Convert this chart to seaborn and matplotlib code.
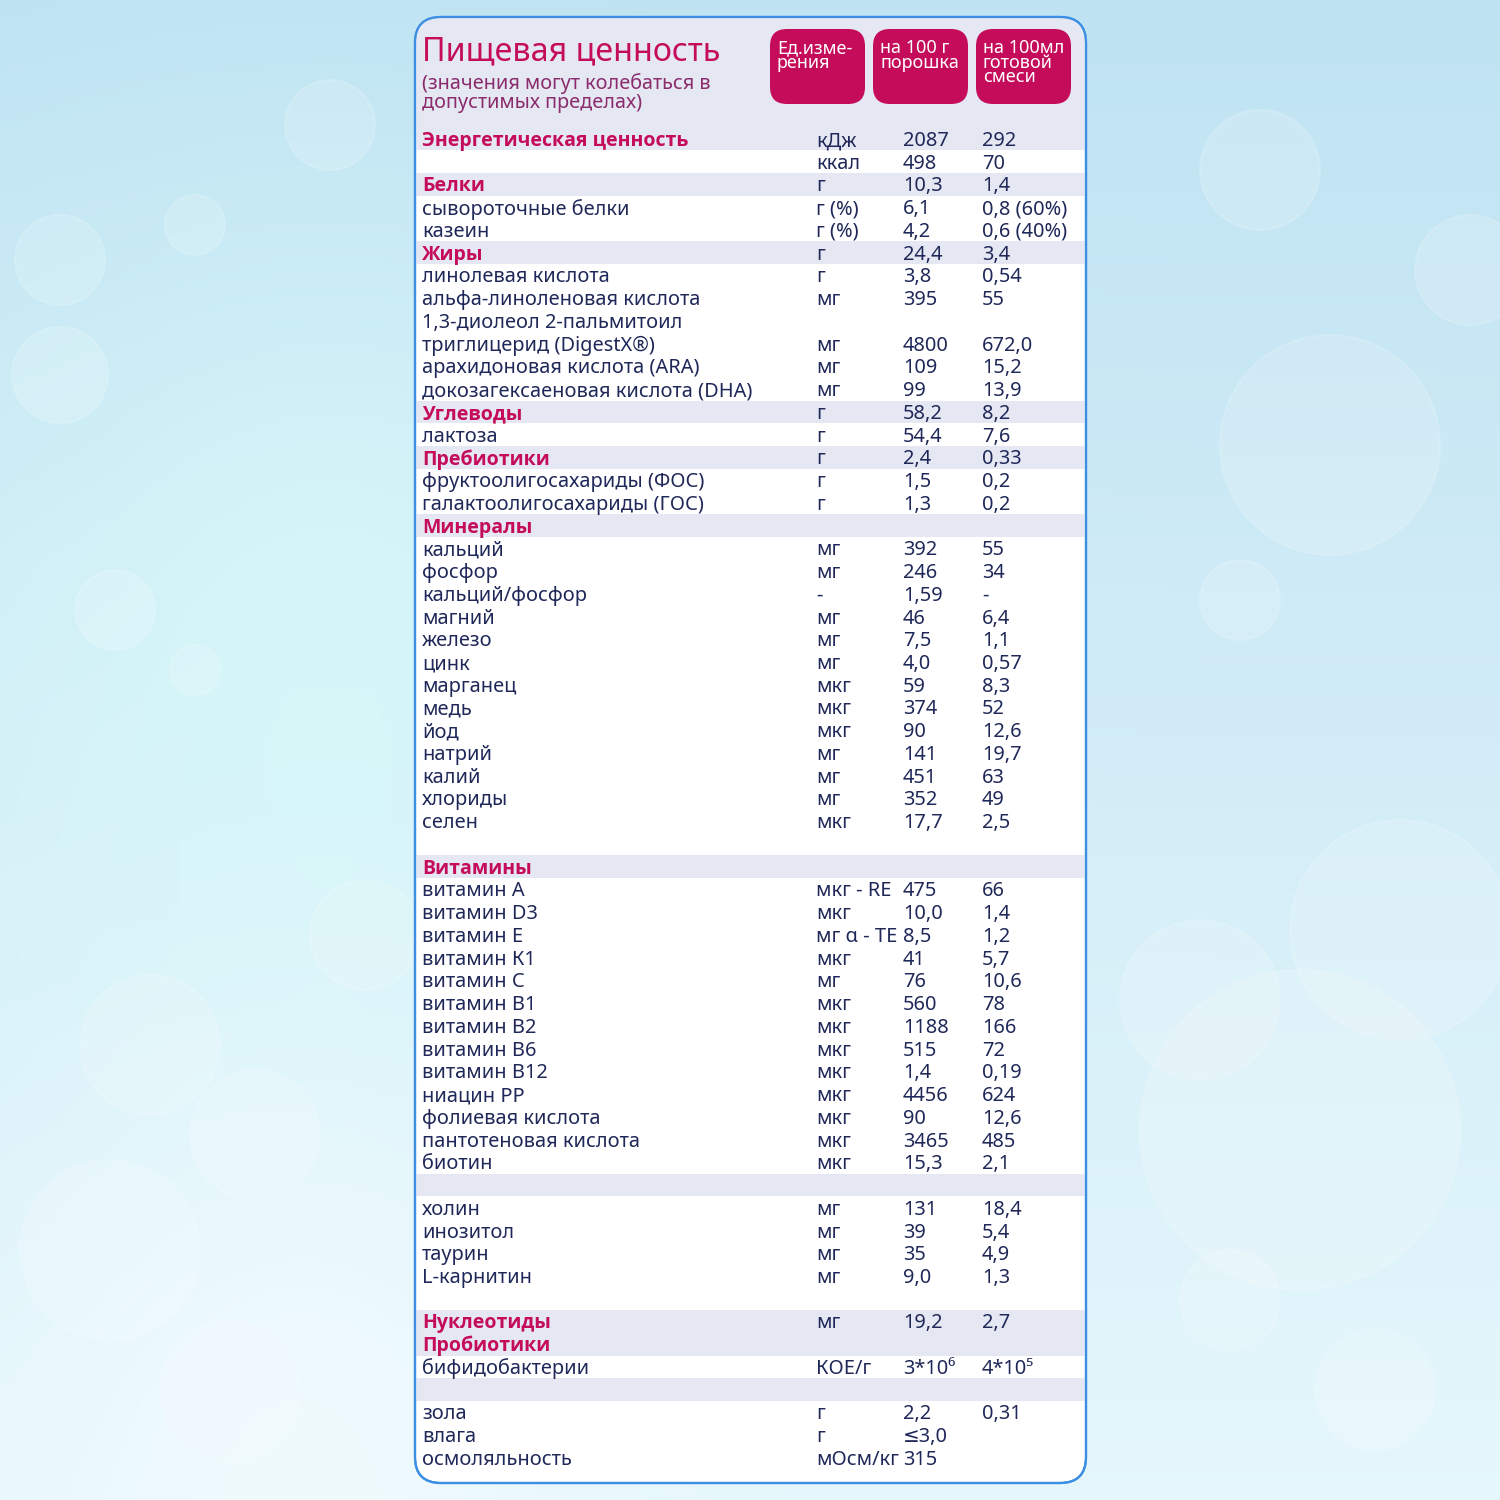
import numpy as np
import pandas as pd
import matplotlib
matplotlib.use("Agg")
import matplotlib.pyplot as plt
from matplotlib.patches import FancyBboxPatch, Circle, Rectangle
import seaborn as sns

# =======================
# Data (nutrition table)
# =======================
title = "Пищевая ценность"
subtitle = "(значения могут колебаться в\nдопустимых пределах)"
col_headers = ["Ед.изме-\nрения", "на 100 г\nпорошка", "на 100мл\nготовой\nсмеси"]

labels = [
    "Энергетическая ценность", "", "Белки", "сывороточные белки", "казеин",
    "Жиры", "линолевая кислота", "альфа-линоленовая кислота", "1,3-диолеол 2-пальмитоил",
    "триглицерид (DigestX®)", "арахидоновая кислота (ARA)", "докозагексаеновая кислота (DHA)",
    "Углеводы", "лактоза", "Пребиотики", "фруктоолигосахариды (ФОС)", "галактоолигосахариды (ГОС)",
    "Минералы", "кальций", "фосфор", "кальций/фосфор", "магний", "железо", "цинк",
    "марганец", "медь", "йод", "натрий", "калий", "хлориды", "селен", "",
    "Витамины", "витамин А", "витамин D3", "витамин Е", "витамин К1", "витамин С",
    "витамин В1", "витамин В2", "витамин В6", "витамин В12", "ниацин РР",
    "фолиевая кислота", "пантотеновая кислота", "биотин", "",
    "холин", "инозитол", "таурин", "L-карнитин", "",
    "Нуклеотиды", "Пробиотики", "бифидобактерии", "",
    "зола", "влага", "осмоляльность",
]
units = [
    "кДж", "ккал", "г", "г (%)", "г (%)",
    "г", "г", "мг", "",
    "мг", "мг", "мг",
    "г", "г", "г", "г", "г",
    "", "мг", "мг", "-", "мг", "мг", "мг",
    "мкг", "мкг", "мкг", "мг", "мг", "мг", "мкг", "",
    "", "мкг - RE", "мкг", "мг α - TE", "мкг", "мг",
    "мкг", "мкг", "мкг", "мкг", "мкг",
    "мкг", "мкг", "мкг", "",
    "мг", "мг", "мг", "мг", "",
    "мг", "", "КОЕ/г", "",
    "г", "г", "мОсм/кг",
]
per_100g = [
    "2087", "498", "10,3", "6,1", "4,2",
    "24,4", "3,8", "395", "",
    "4800", "109", "99",
    "58,2", "54,4", "2,4", "1,5", "1,3",
    "", "392", "246", "1,59", "46", "7,5", "4,0",
    "59", "374", "90", "141", "451", "352", "17,7", "",
    "", "475", "10,0", "8,5", "41", "76",
    "560", "1188", "515", "1,4", "4456",
    "90", "3465", "15,3", "",
    "131", "39", "35", "9,0", "",
    "19,2", "", "3*10⁶", "",
    "2,2", "≤3,0", "315",
]
per_100ml = [
    "292", "70", "1,4", "0,8 (60%)", "0,6 (40%)",
    "3,4", "0,54", "55", "",
    "672,0", "15,2", "13,9",
    "8,2", "7,6", "0,33", "0,2", "0,2",
    "", "55", "34", "-", "6,4", "1,1", "0,57",
    "8,3", "52", "12,6", "19,7", "63", "49", "2,5", "",
    "", "66", "1,4", "1,2", "5,7", "10,6",
    "78", "166", "72", "0,19", "624",
    "12,6", "485", "2,1", "",
    "18,4", "5,4", "4,9", "1,3", "",
    "2,7", "", "4*10⁵", "",
    "0,31", "", "",
]
# sec = section heading, item = normal row, gap = empty row, gapband = empty shaded row
row_kind = [
    "sec", "item", "sec", "item", "item",
    "sec", "item", "item", "item",
    "item", "item", "item",
    "sec", "item", "sec", "item", "item",
    "sec", "item", "item", "item", "item", "item", "item",
    "item", "item", "item", "item", "item", "item", "item", "gap",
    "sec", "item", "item", "item", "item", "item",
    "item", "item", "item", "item", "item",
    "item", "item", "item", "gapband",
    "item", "item", "item", "item", "gap",
    "sec", "sec", "item", "gapband",
    "item", "item", "item",
]

df = pd.DataFrame({"label": labels, "unit": units, "g100": per_100g,
                   "ml100": per_100ml, "kind": row_kind})

# =======================
# Style
# =======================
sns.set_theme(style="white")
plt.rcParams.update({
    'font.family': ['Noto Sans', 'DejaVu Sans'],
    'axes.unicode_minus': False,
})
BOLD_FAMILY = ['Open Sans', 'DejaVu Sans']

NAVY = "#1f2858"
MAGENTA = "#c40c5a"
SUBTITLE = "#8a2b6c"
BAND = "#e5e7f2"
BORDER = "#3d8fe3"

fig = plt.figure(figsize=(15, 15), dpi=100)
ax = fig.add_axes([0, 0, 1, 1])
ax.set_xlim(0, 1500)
ax.set_ylim(1500, 0)
ax.axis('off')

# --- background gradient ---
n = 300
yy, xx = np.mgrid[0:1:n * 1j, 0:1:n * 1j]
top = np.array([0.75, 0.89, 0.95])
bottom = np.array([0.90, 0.97, 0.99])
img = top[None, None, :] * (1 - yy[..., None]) + bottom[None, None, :] * yy[..., None]
glow = np.exp(-(((xx - 0.22) / 0.25) ** 2 + ((yy - 0.45) / 0.3) ** 2))
img = img * (1 - 0.6 * glow[..., None]) + np.array([0.85, 0.99, 0.98]) * 0.6 * glow[..., None]
glow2 = np.exp(-(((xx - 0.2) / 0.2) ** 2 + ((yy - 0.95) / 0.25) ** 2))
img = img * (1 - 0.6 * glow2[..., None]) + np.array([0.97, 0.99, 1.0]) * 0.6 * glow2[..., None]
ax.imshow(np.clip(img, 0, 1), extent=(0, 1500, 1500, 0), zorder=0, aspect='auto')

# soft bokeh circles
bokeh = [(330, 125, 45), (60, 260, 45), (60, 375, 48), (195, 225, 30), (115, 610, 40),
         (195, 670, 25), (150, 1045, 70), (365, 935, 55), (255, 1135, 65), (110, 1250, 90),
         (1260, 170, 60), (1330, 445, 110), (1470, 270, 55), (1240, 600, 40), (1400, 930, 110),
         (1200, 1000, 80), (1300, 1130, 160), (1230, 1300, 50), (230, 1390, 70), (1375, 1390, 60)]
for cx, cy, r in bokeh:
    ax.add_patch(Circle((cx, cy), r, facecolor='white', edgecolor='white',
                        alpha=0.16, lw=1.5, zorder=1))

# --- white panel ---
px0, py0, px1, py1 = 415, 17, 1086, 1483
panel = FancyBboxPatch((px0, py0), px1 - px0, py1 - py0,
                       boxstyle="round,pad=0,rounding_size=26",
                       facecolor='white', edgecolor=BORDER, lw=1.6, zorder=2)
ax.add_patch(panel)

row0_y = 139
step = 22.74
y = row0_y + np.arange(len(df)) * step

# header shade (title area through first row)
hdr = Rectangle((px0, py0), px1 - px0, row0_y + step / 2 - py0,
                facecolor=BAND, edgecolor='none', zorder=3)
ax.add_patch(hdr)
hdr.set_clip_path(panel)

# row bands
for yi, kind in zip(y, df['kind']):
    if kind in ("sec", "gapband"):
        band = Rectangle((px0, yi - step / 2), px1 - px0, step,
                         facecolor=BAND, edgecolor='none', zorder=3)
        ax.add_patch(band)
        band.set_clip_path(panel)

# redraw border on top
ax.add_patch(FancyBboxPatch((px0, py0), px1 - px0, py1 - py0,
                            boxstyle="round,pad=0,rounding_size=26",
                            facecolor='none', edgecolor=BORDER, lw=1.6, zorder=6))

# --- title ---
ax.text(422, 52, title, color=MAGENTA, fontsize=23.2, va='center', ha='left', zorder=5)
ax.text(422, 93, subtitle, color=SUBTITLE, fontsize=14.3, va='center', ha='left',
        linespacing=0.92, zorder=5)

# --- column header pills ---
pill_x = [770, 873, 976]
pill_w = 95
for x0, txt in zip(pill_x, col_headers):
    ax.add_patch(FancyBboxPatch((x0, 29), pill_w, 75,
                                boxstyle="round,pad=0,rounding_size=17",
                                facecolor=MAGENTA, edgecolor='none', zorder=4))
    ax.text(x0 + 7, 39, txt, color='white', fontsize=13, va='top', ha='left',
            linespacing=0.76, zorder=5)

# --- table rows ---
x_label, x_unit, x_g, x_ml = 422, 816, 903, 982
dy = 2
for yi, row in zip(y, df.itertuples()):
    if row.kind == "sec":
        ax.text(x_label, yi + dy, row.label, color=MAGENTA, fontsize=14, fontweight='bold',
                family=BOLD_FAMILY, va='center', ha='left', zorder=5)
    elif row.label:
        ax.text(x_label, yi + dy, row.label, color=NAVY, fontsize=14.4,
                va='center', ha='left', zorder=5)
    for xc, val in ((x_unit, row.unit), (x_g, row.g100), (x_ml, row.ml100)):
        if val:
            ax.text(xc, yi + dy, val, color=NAVY, fontsize=14.4, va='center', ha='left', zorder=5)

fig.savefig("out.png", dpi=100)
